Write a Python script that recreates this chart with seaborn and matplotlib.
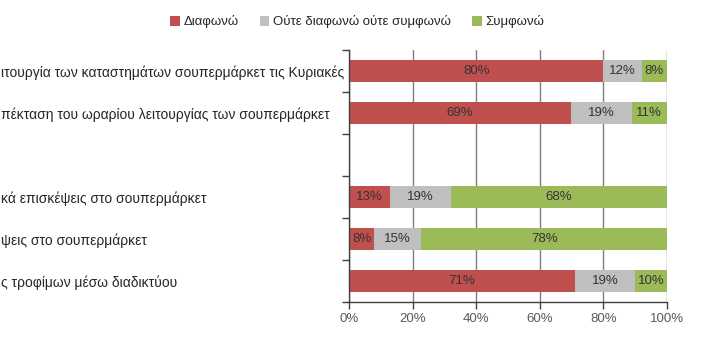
import numpy as np
import pandas as pd
import matplotlib
matplotlib.use("Agg")
import matplotlib.pyplot as plt
from matplotlib.patches import Patch
from matplotlib.ticker import FixedLocator, PercentFormatter
import seaborn as sns

# Survey statements (top to bottom); the blank entry is a spacer row
categories = [
    "ιτουργία των καταστημάτων σουπερμάρκετ τις Κυριακές",
    "πέκταση του ωραρίου λειτουργίας των σουπερμάρκετ",
    " ",
    "κά επισκέψεις στο σουπερμάρκετ",
    "ψεις στο σουπερμάρκετ",
    "ς τροφίμων μέσω διαδικτύου",
]
disagree = [80, 69, 0, 13, 8, 71]
neutral = [12, 19, 0, 19, 15, 19]
agree = [8, 11, 0, 68, 78, 10]

series_names = ["Διαφωνώ", "Ούτε διαφωνώ ούτε συμφωνώ", "Συμφωνώ"]
colors = ["#C0504D", "#BFBFBF", "#9BBB59"]

sns.set_theme(style="white")
plt.rcParams["font.family"] = ["Liberation Sans", "DejaVu Sans"]

# 100% stacked: each segment is its share of the row total
vals = np.array([disagree, neutral, agree], dtype=float)
totals = vals.sum(axis=0)
shares = np.divide(vals * 100, totals, out=np.zeros_like(vals), where=totals > 0)
cum = np.cumsum(shares, axis=0)

df = pd.DataFrame({
    "statement": categories,
    "c1": cum[0], "c2": cum[1], "c3": cum[2],
})

fig = plt.figure(figsize=(7.04, 3.43), dpi=100)
left_px = 349
ax = fig.add_axes([left_px / 704, 1 - 302 / 343, (667 - left_px) / 704, (302 - 50) / 343])

ax.set_axisbelow(True)
ax.xaxis.grid(True, color="#7F7F7F", linewidth=1)

# draw from the longest cumulative segment down so each layer shows its own part
for col, c in zip(["c3", "c2", "c1"], colors[::-1]):
    sns.barplot(data=df, x=col, y="statement", order=categories, orient="h",
                color=c, width=0.52, linewidth=0, saturation=1, ax=ax)

# value labels centred in each segment
for i in range(len(categories)):
    if totals[i] == 0:
        continue
    left = 0.0
    for k in range(3):
        w = shares[k, i]
        ax.text(left + w / 2, i, f"{vals[k, i]:.0f}%", ha="center", va="center",
                fontsize=9.5, color="#333333")
        left += w

ax.set_xlim(0, 100)
ax.set_xticks(np.arange(0, 101, 20))
ax.xaxis.set_major_formatter(PercentFormatter(decimals=0))
ax.set_xlabel("")
ax.set_ylabel("")

for side in ["top", "right"]:
    ax.spines[side].set_visible(False)
for side in ["left", "bottom"]:
    ax.spines[side].set_color("#404040")
    ax.spines[side].set_linewidth(1)

ax.tick_params(axis="x", which="major", bottom=True, length=5, width=1,
               color="#404040", labelsize=9.5, labelcolor="#595959", pad=3)
# statement labels are left-aligned at the figure's left edge
ax.tick_params(axis="y", which="major", left=False, length=0,
               labelsize=10, labelcolor="#262626", pad=left_px * 72 / 100 - 1)
for lab in ax.get_yticklabels():
    lab.set_horizontalalignment("left")
ax.yaxis.set_minor_locator(FixedLocator(np.arange(-0.5, len(categories), 1.0)))
ax.tick_params(axis="y", which="minor", left=True, length=5, width=1, color="#404040")

handles = [Patch(facecolor=c, edgecolor="none") for c in colors]
fig.legend(handles, series_names, loc="center", bbox_to_anchor=(357 / 704, 1 - 22 / 343),
           ncol=3, frameon=False, fontsize=9.5, handlelength=0.75, handleheight=0.75,
           handletextpad=0.25, columnspacing=1.6, labelcolor="#262626")

fig.savefig("out.png", dpi=100)
